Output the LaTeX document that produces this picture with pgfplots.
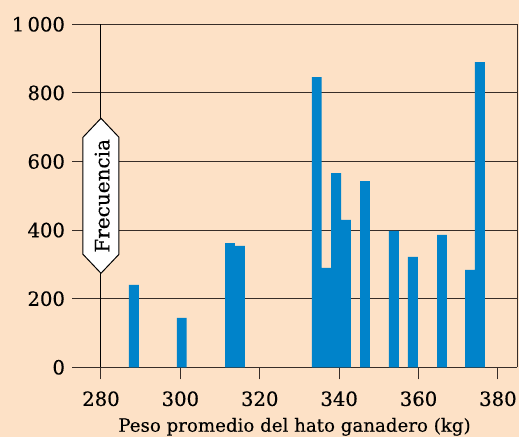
\documentclass[border=0pt]{standalone}
\usepackage{fontspec}
\setmainfont{DejaVu Serif}[UprightFeatures={FakeBold=0.35}]
\usepackage{pgfplots}
\pgfplotsset{compat=1.18}
\definecolor{bg}{RGB}{253,225,198}
\definecolor{barblue}{RGB}{0,131,202}
\definecolor{gridc}{RGB}{55,45,40}
\begin{document}
\begin{tikzpicture}
\useasboundingbox (0,0) rectangle (259.5pt,218.5pt);
\fill[bg] (0,0) rectangle (259.5pt,218.5pt);
\begin{axis}[
 at={(36pt,34.85pt)}, anchor=south west,
 scale only axis, width=222.5pt, height=171.5pt,
 xmin=272.7, xmax=384.8, ymin=0, ymax=1000,
 axis line style={draw=none},
 xtick={280,300,...,380}, ytick={0,200,...,1000},
 yticklabels={0,200,400,600,800,1\,000},
 ymajorgrids, grid style={gridc, line width=0.5pt},
 ytick style={draw=none},
 xtick pos=bottom, xtick align=outside, major tick length=6pt,
 xtick style={gridc, line width=0.5pt},
 /pgf/number format/assume math mode=true,
 /pgf/number format/1000 sep={},
 tick label style={font=\fontsize{9.8}{11}\selectfont},
 xticklabel style={yshift=-2.5pt},
 xlabel={Peso promedio del hato ganadero (kg)},
 xlabel style={font=\fontsize{9.1}{11}\selectfont, yshift=1pt},
 clip=false,
]
\addplot[ybar, bar width=2.5, bar shift=0pt, fill=barblue, draw=none] coordinates {
(288.3,240) (300.35,144) (312.5,362) (315.0,354)
(334.35,846) (336.85,290) (339.25,566) (341.7,430)
(346.5,543) (353.8,398) (358.55,322) (365.9,386)
(373.0,284) (375.45,890)
};
\draw[gridc, line width=0.5pt] (rel axis cs:1,0) -- (rel axis cs:1,1);
\draw[black, line width=0.5pt] (axis cs:280,0) -- (axis cs:280,1000);
\coordinate (pn) at (axis cs:280,500);
\end{axis}
\begin{scope}[shift={(pn)}]
\draw[fill=white, line width=0.5pt] (0,38.75pt) -- (9pt,29.25pt) -- (9pt,-29.25pt) -- (0,-38.75pt) -- (-9pt,-29.25pt) -- (-9pt,29.25pt) -- cycle;
\node[rotate=90, font=\fontsize{10}{12}\selectfont, inner sep=0pt] at (0.6pt,0) {Frecuencia};
\end{scope}
\end{tikzpicture}
\end{document}
